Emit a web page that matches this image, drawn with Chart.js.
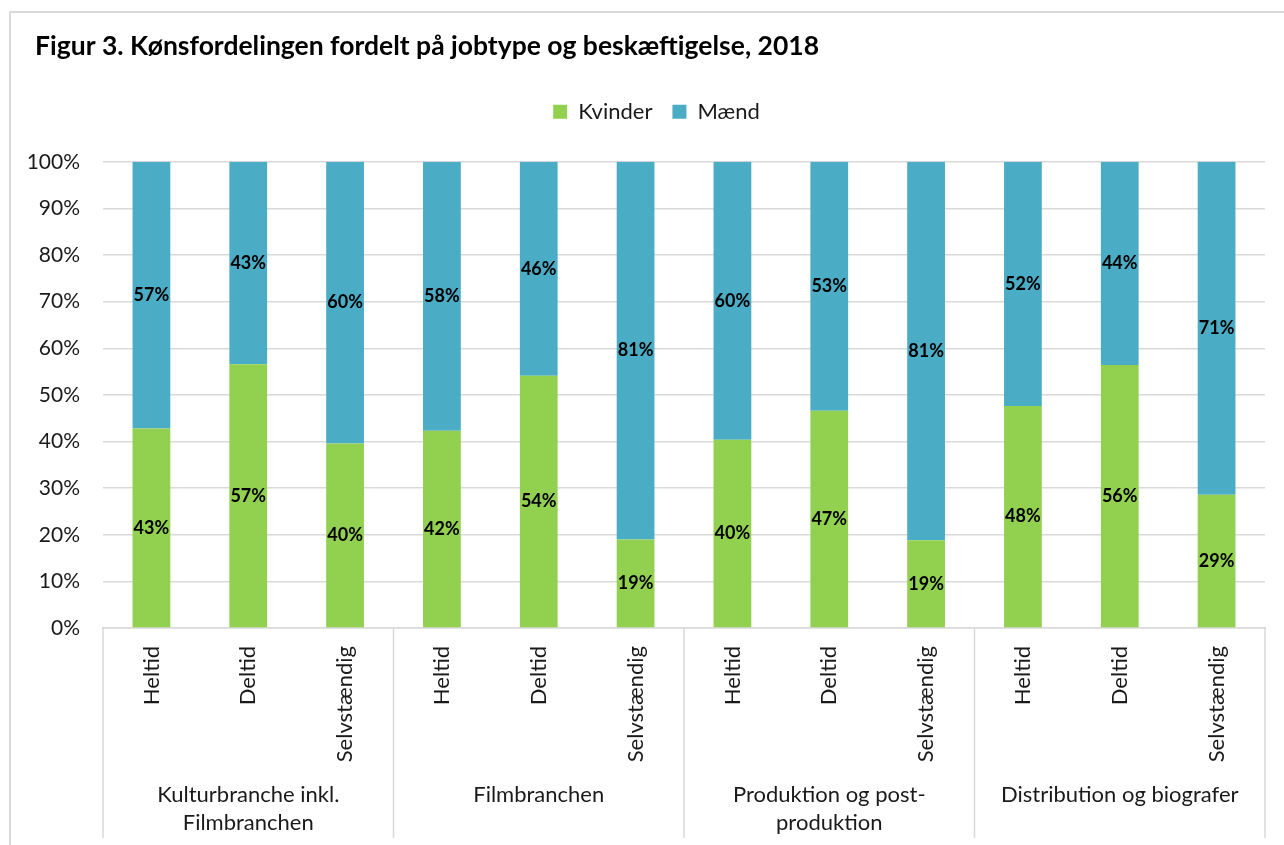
<!DOCTYPE html>
<html>
<head>
<meta charset="utf-8">
<script src="https://cdn.jsdelivr.net/npm/chart.js@4/dist/chart.umd.min.js"></script>
<style>
  body { margin: 0; background: #fff; }
  #wrap { position: relative; width: 1284px; height: 845px; overflow: hidden; }
  #frame { position: absolute; left: 9px; top: 11px; width: 1300px; height: 900px; border: 2px solid #d9d9d9; }
  #chart { position: absolute; left: 0; top: 0; }
</style>
</head>
<body>
<div id="wrap">
  <div id="frame"></div>
  <canvas id="chart" width="1284" height="845"></canvas>
</div>
<script>
const categories = [
  'Heltid', 'Deltid', 'Selvstændig',
  'Heltid', 'Deltid', 'Selvstændig',
  'Heltid', 'Deltid', 'Selvstændig',
  'Heltid', 'Deltid', 'Selvstændig'
];
// each group covers 3 categories
const groupLabels = [
  ['Kulturbranche inkl.', 'Filmbranchen'],
  ['Filmbranchen'],
  ['Produktion og post-', 'produktion'],
  ['Distribution og biografer']
];
const groupSize = 3;

const kvinder = [42.8, 56.6, 39.6, 42.3, 54.1, 19.0, 40.4, 46.6, 18.8, 47.6, 56.4, 28.6];
const maend   = [57.2, 43.4, 60.4, 57.7, 45.9, 81.0, 59.6, 53.4, 81.2, 52.4, 43.6, 71.4];

const yTicks = [0, 10, 20, 30, 40, 50, 60, 70, 80, 90, 100];

Chart.defaults.font.family = 'Lato';
Chart.defaults.color = '#1a1a1a';

// centered value labels inside each bar segment
const valueLabels = {
  id: 'valueLabels',
  afterDatasetsDraw(chart) {
    const ctx = chart.ctx;
    ctx.save();
    ctx.font = 'bold 18px Lato';
    ctx.fillStyle = '#000';
    ctx.textAlign = 'center';
    ctx.textBaseline = 'middle';
    chart.data.datasets.forEach((ds, i) => {
      chart.getDatasetMeta(i).data.forEach((bar, j) => {
        const p = bar.getProps(['x', 'y', 'base'], true);
        ctx.fillText(Math.round(ds.data[j]) + '%', p.x, (p.y + p.base) / 2);
      });
    });
    ctx.restore();
  }
};

// group separators and the second row of category labels
const groupAxis = {
  id: 'groupAxis',
  afterDraw(chart) {
    const xs = chart.scales.x;
    const ctx = chart.ctx;
    const half = (xs.getPixelForValue(1) - xs.getPixelForValue(0)) / 2;
    ctx.save();
    ctx.strokeStyle = '#d9d9d9';
    ctx.lineWidth = 1.5;
    ctx.font = '22px Lato';
    ctx.fillStyle = '#1a1a1a';
    ctx.textAlign = 'center';
    ctx.textBaseline = 'middle';
    groupLabels.forEach((lines, g) => {
      const left = xs.getPixelForValue(g * groupSize) - half;
      const right = xs.getPixelForValue(g * groupSize + groupSize - 1) + half;
      ctx.beginPath();
      ctx.moveTo(left, xs.top);
      ctx.lineTo(left, xs.bottom);
      if (g === groupLabels.length - 1) {
        ctx.moveTo(right, xs.top);
        ctx.lineTo(right, xs.bottom);
      }
      ctx.stroke();
      lines.forEach((t, k) => {
        ctx.fillText(t, (left + right) / 2, xs.top + 167 + k * 28);
      });
    });
    ctx.restore();
  }
};

// title sits a bit further right than the axis labels; extra gap under legend
const layoutTweak = {
  id: 'layoutTweak',
  beforeInit(chart) {
    const fit = chart.legend.fit;
    chart.legend.fit = function () {
      fit.call(this);
      this.height += 29;
    };
  },
  afterLayout(chart) {
    chart.titleBlock.left += 15;
    chart.legend.left += 14;
    chart.legend.right += 14;
  }
};

new Chart(document.getElementById('chart'), {
  type: 'bar',
  data: {
    labels: categories,
    datasets: [
      { label: 'Kvinder', data: kvinder, backgroundColor: '#92D050' },
      { label: 'Mænd', data: maend, backgroundColor: '#4BACC6' }
    ]
  },
  options: {
    responsive: false,
    animation: false,
    barPercentage: 0.39,
    categoryPercentage: 1,
    layout: { padding: { left: 20, right: 19, top: 0, bottom: 7 } },
    plugins: {
      title: {
        display: true,
        text: 'Figur 3. Kønsfordelingen fordelt på jobtype og beskæftigelse, 2018',
        align: 'start',
        color: '#000',
        font: { size: 26.5, weight: 'bold' },
        padding: { top: 31, bottom: 18 }
      },
      legend: {
        position: 'top',
        labels: {
          font: { size: 22 },
          boxWidth: 14,
          boxHeight: 14,
          padding: 20
        }
      },
      tooltip: { enabled: false }
    },
    scales: {
      x: {
        stacked: true,
        grid: { display: false },
        border: { display: true, color: '#d9d9d9', width: 1.5 },
        ticks: {
          autoSkip: false,
          minRotation: 90,
          maxRotation: 90,
          padding: 10,
          font: { size: 22 }
        },
        afterFit(axis) { axis.height = 210; }
      },
      y: {
        stacked: true,
        min: 0,
        max: 100,
        border: { display: false },
        grid: { color: '#d9d9d9', lineWidth: 1.5, drawTicks: false },
        afterBuildTicks(axis) { axis.ticks = yTicks.map(v => ({ value: v })); },
        ticks: {
          padding: 23,
          font: { size: 21 },
          callback: v => v + '%'
        },
        afterFit(axis) { axis.width = 83; }
      }
    }
  },
  plugins: [valueLabels, groupAxis, layoutTweak]
});
</script>
</body>
</html>
